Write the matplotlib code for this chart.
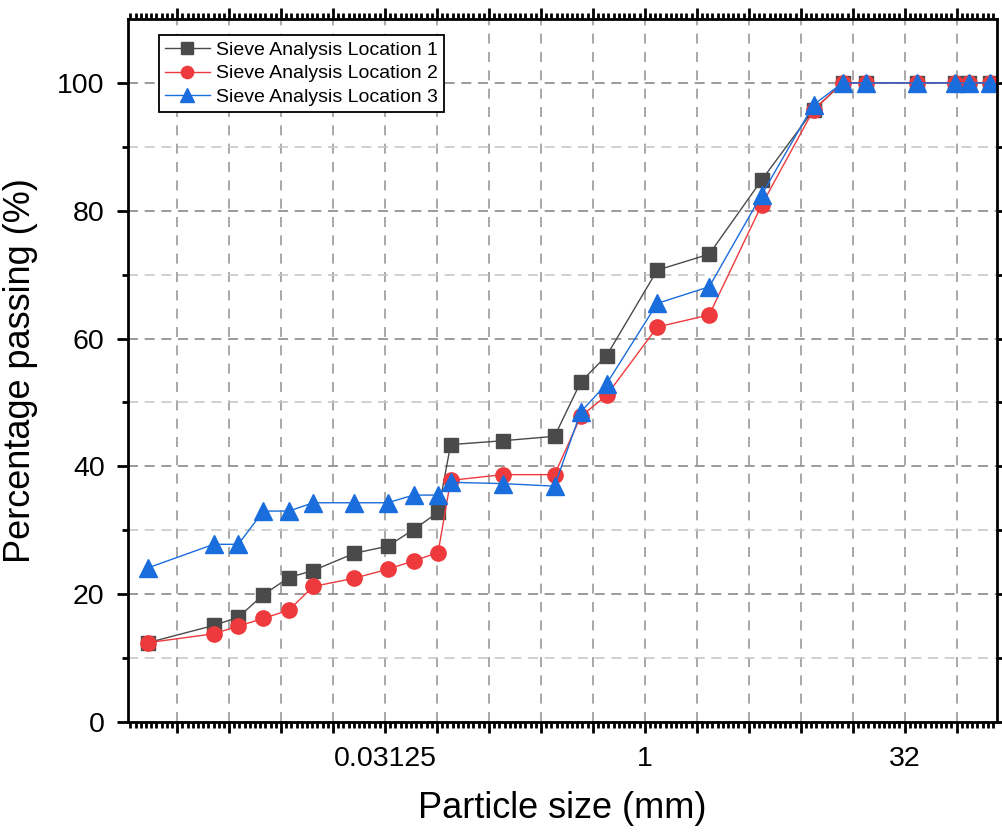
import matplotlib
matplotlib.use('Agg')
import matplotlib.pyplot as plt
import matplotlib.ticker as mticker
import numpy as np

plt.rcParams['font.family'] = ['Liberation Sans', 'DejaVu Sans']

# Particle sizes (mm), shared by all three locations
particle_size = [0.00132, 0.00318, 0.00442, 0.00617, 0.00867, 0.0120, 0.0208, 0.0324,
                 0.0457, 0.0634, 0.075, 0.15, 0.3, 0.425, 0.6, 1.18, 2.36, 4.75,
                 9.5, 14.0, 19.0, 37.5, 63.0, 75.0, 100.0]
# Percentage passing for each location
location_1 = [12.4, 15.1, 16.4, 19.9, 22.6, 23.7, 26.4, 27.5, 30.1, 32.8, 43.4, 44.0, 44.7,
              53.2, 57.3, 70.7, 73.2, 84.8, 95.8, 100, 100, 100, 100, 100, 100]
location_2 = [12.4, 13.8, 15.0, 16.2, 17.5, 21.2, 22.5, 23.9, 25.2, 26.5, 37.8, 38.7, 38.7,
              47.8, 51.1, 61.8, 63.7, 80.9, 95.8, 100, 100, 100, 100, 100, 100]
location_3 = [24.1, 27.8, 27.8, 33.0, 33.0, 34.3, 34.3, 34.3, 35.5, 35.5, 37.5, 37.3, 36.9,
              48.5, 52.9, 65.5, 68.1, 82.5, 96.6, 100, 100, 100, 100, 100, 100]
series_labels = ['Sieve Analysis Location 1', 'Sieve Analysis Location 2', 'Sieve Analysis Location 3']
x_tick_labels = {2**-5: '0.03125', 1: '1', 32: '32'}

fig = plt.figure(figsize=(10.03, 8.33), dpi=100)
ax = fig.add_axes([0.1279, 0.1333, 0.8658, 0.8439])

ax.plot(particle_size, location_1, '-s', color='#4a4a4a', lw=1, ms=10.5, label=series_labels[0])
ax.plot(particle_size, location_2, '-o', color='#ee3a3c', lw=1, ms=11, label=series_labels[1])
ax.plot(particle_size, location_3, '-^', color='#1a6ddc', lw=1, ms=12.5, label=series_labels[2])

ax.set_xscale('log', base=2)
ax.set_xlim(2**-9.94, 2**6.77)
ax.set_ylim(0, 110)

# one major tick per power of two, labels only every fifth
ax.xaxis.set_major_locator(mticker.FixedLocator([2.0**k for k in range(-10, 8)]))
ax.xaxis.set_major_formatter(mticker.FuncFormatter(lambda v, pos: x_tick_labels.get(v, '')))
ax.xaxis.set_minor_locator(mticker.FixedLocator([2.0**(k + j / 10) for k in range(-10, 7) for j in range(1, 10)]))
ax.xaxis.set_minor_formatter(mticker.NullFormatter())
ax.yaxis.set_major_locator(mticker.MultipleLocator(20))
ax.yaxis.set_minor_locator(mticker.FixedLocator([10, 30, 50, 70, 90]))

ax.set_axisbelow(True)
ax.xaxis.grid(True, which='major', color='#9a9a9a', linestyle=(0, (6, 5)), lw=1.2)
ax.yaxis.grid(True, which='major', color='#8a8a8a', linestyle=(0, (6, 4)), lw=1.2)
ax.yaxis.grid(True, which='minor', color='#c8c8c8', linestyle=(0, (6, 4)), lw=1.2)

ax.tick_params(which='both', direction='out', top=True, right=True, width=2, labelsize=20.5, pad=9)
ax.tick_params(which='major', length=8)
ax.tick_params(which='minor', length=4)
for s in ax.spines.values():
    s.set_linewidth(2)

ax.set_xlabel('Particle size (mm)', fontsize=26, labelpad=14)
ax.set_ylabel('Percentage passing (%)', fontsize=26, labelpad=14)

leg = ax.legend(loc='upper left', bbox_to_anchor=(0.0354, 0.977), fontsize=14, fancybox=False,
                edgecolor='black', framealpha=1, borderpad=0.3, labelspacing=0.32,
                handlelength=2.3, handletextpad=0.35, borderaxespad=0, markerscale=0.8)
leg.get_frame().set_linewidth(1.3)

fig.savefig('out.png', dpi=100)
